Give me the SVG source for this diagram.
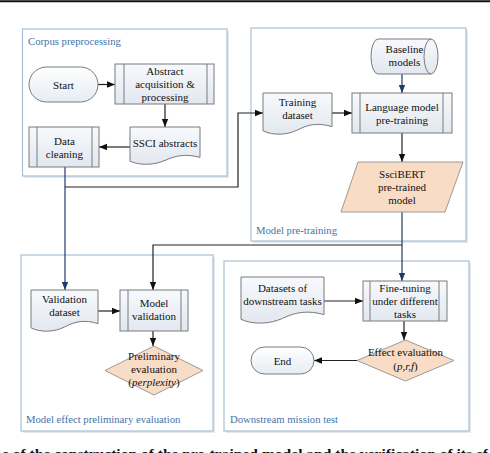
<svg xmlns="http://www.w3.org/2000/svg" width="490" height="453" viewBox="0 0 490 453">
<defs>
<linearGradient id="gSub" x1="0" y1="0" x2="0" y2="1">
<stop offset="0" stop-color="#f7f9fc"/><stop offset="1" stop-color="#e2e8f0"/>
</linearGradient>
<linearGradient id="gTerm" x1="0" y1="0" x2="0" y2="1">
<stop offset="0" stop-color="#ffffff"/><stop offset="1" stop-color="#e6edf5"/>
</linearGradient>
<marker id="ab" viewBox="0 0 8 8" refX="8" refY="4" markerWidth="8" markerHeight="8" markerUnits="userSpaceOnUse" orient="auto">
<path d="M0 0.8 L8 4 L0 7.2 Z" fill="#111"/>
</marker>
<marker id="an" viewBox="0 0 8 8" refX="8" refY="4" markerWidth="8" markerHeight="8" markerUnits="userSpaceOnUse" orient="auto">
<path d="M0 0.8 L8 4 L0 7.2 Z" fill="#1f3a6b"/>
</marker>
</defs>
<style>
.grp{fill:#ffffff;stroke:#a9bed6;stroke-width:1.2}
.shd{fill:#e4e8ee;stroke:none}
.gt{font-family:"Liberation Serif","Times New Roman",serif;font-size:10.7px;fill:#4673a8}
.t{font-family:"Liberation Serif","Times New Roman",serif;font-size:11px;fill:#111;text-anchor:middle}
.sub{fill:url(#gSub);stroke:#7a7a7a;stroke-width:1}
.doc{fill:url(#gSub);stroke:#7a7a7a;stroke-width:1}
.term{fill:url(#gTerm);stroke:#7a7a7a;stroke-width:1}
.pch{fill:#f9dcc5;stroke:#9a9a9a;stroke-width:1}
.in{stroke:#7a7a7a;stroke-width:1;fill:none}
.c{fill:none;stroke:#222;stroke-width:1.2;marker-end:url(#ab)}
.cn{fill:none;stroke:#1f3a6b;stroke-width:1.2;marker-end:url(#an)}
.cap{font-family:"Liberation Serif","Times New Roman",serif;font-size:13px;font-weight:bold;fill:#111}
</style>
<rect x="0" y="0" width="490" height="453" fill="#ffffff"/>
<line x1="0" y1="1.2" x2="490" y2="1.2" stroke="#111" stroke-width="2"/>

<g id="group-corpus">
<rect class="shd" x="24.5" y="31" width="204.5" height="147"/>
<rect class="grp" x="22.5" y="29" width="204.5" height="147"/>
<text class="gt" x="28" y="45">Corpus preprocessing</text>
</g>
<g id="group-pretraining">
<rect class="shd" x="253" y="30" width="215" height="213"/>
<rect class="grp" x="251" y="28" width="215" height="213"/>
<text class="gt" x="256" y="234">Model pre-training</text>
</g>
<g id="group-preliminary">
<rect class="shd" x="23" y="257" width="192" height="176"/>
<rect class="grp" x="21" y="255" width="192" height="176"/>
<text class="gt" x="26" y="423">Model effect preliminary evaluation</text>
</g>
<g id="group-downstream">
<rect class="shd" x="226" y="263" width="245" height="170"/>
<rect class="grp" x="224" y="261" width="245" height="170"/>
<text class="gt" x="230" y="423">Downstream mission test</text>
</g>

<g id="connectors">
<path class="c" d="M98 84.5 H115"/>
<path class="c" d="M165 104 V127"/>
<path class="c" d="M130 147 H99"/>
<path class="cn" d="M65 167 V290"/>
<path class="c" d="M65 187 H238 V113 H263"/>
<path class="cn" d="M402 74 V93"/>
<path class="c" d="M332 113 H352"/>
<path class="c" d="M402 133 V162"/>
<path class="cn" d="M402 212 V281"/>
<path class="c" d="M402 245 H153 V290"/>
<path class="c" d="M98 311 H120"/>
<path class="c" d="M153 331 V346"/>
<path class="c" d="M324 301 H363"/>
<path class="c" d="M404 321 V340"/>
<path class="c" d="M357 360.5 H314"/>
</g>

<g id="start">
<rect class="term" x="29" y="67" width="69" height="35" rx="17.5"/>
<text class="t" x="63.5" y="88.5">Start</text>
</g>
<g id="abstract-acquisition">
<rect class="sub" x="115" y="64" width="99" height="40"/>
<line class="in" x1="124" y1="64" x2="124" y2="104"/><line class="in" x1="207" y1="64" x2="207" y2="104"/>
<text class="t" x="165" y="75">Abstract</text>
<text class="t" x="165" y="88">acquisition &amp;</text>
<text class="t" x="165" y="101">processing</text>
</g>
<g id="ssci-abstracts">
<path class="doc" d="M130 127 H200 V157.4 C186 153.6 175.5 155.5 165 160.4 C154.5 165 140.5 165.8 130 161.2 Z"/>
<text class="t" x="165" y="147">SSCI abstracts</text>
</g>
<g id="data-cleaning">
<rect class="sub" x="29" y="127" width="70" height="40"/>
<line class="in" x1="37" y1="127" x2="37" y2="167"/><line class="in" x1="92" y1="127" x2="92" y2="167"/>
<text class="t" x="64.5" y="145">Data</text>
<text class="t" x="64.5" y="158">cleaning</text>
</g>
<g id="baseline-models">
<path class="doc" d="M378 39 H431 A7 17.5 0 0 1 431 74 H378 A7 17.5 0 0 1 378 39 Z"/>
<path class="in" d="M431 39 A7 17.5 0 0 0 431 74"/>
<text class="t" x="404.5" y="53">Baseline</text>
<text class="t" x="404.5" y="66">models</text>
</g>
<g id="training-dataset">
<path class="doc" d="M263 93 H332 V126.6 C318.2 122.4 307.9 124.5 297.5 130 C287.2 135 273.4 135.8 263 130.8 Z"/>
<text class="t" x="297.5" y="106">Training</text>
<text class="t" x="297.5" y="119">dataset</text>
</g>
<g id="language-model-pretraining">
<rect class="sub" x="352" y="93" width="100" height="40"/>
<line class="in" x1="360" y1="93" x2="360" y2="133"/><line class="in" x1="443" y1="93" x2="443" y2="133"/>
<text class="t" x="402" y="111">Language model</text>
<text class="t" x="402" y="124">pre-training</text>
</g>
<g id="sscibert">
<path class="pch" d="M358 162 H463 L445 212 H341 Z"/>
<text class="t" x="402" y="178">SsciBERT</text>
<text class="t" x="402" y="191">pre-trained</text>
<text class="t" x="402" y="204">model</text>
</g>
<g id="validation-dataset">
<path class="doc" d="M31 290 H98 V323.6 C84.6 319.4 74.6 321.5 64.5 327 C54.5 332 41 332.8 31 327.8 Z"/>
<text class="t" x="64.5" y="303">Validation</text>
<text class="t" x="64.5" y="316">dataset</text>
</g>
<g id="model-validation">
<rect class="sub" x="120" y="290" width="68" height="41"/>
<line class="in" x1="128" y1="290" x2="128" y2="331"/><line class="in" x1="181" y1="290" x2="181" y2="331"/>
<text class="t" x="154" y="307">Model</text>
<text class="t" x="154" y="320">validation</text>
</g>
<g id="preliminary-evaluation">
<path class="pch" d="M154 346 L203 370.5 L154 395 L105 370.5 Z"/>
<text class="t" x="154" y="360">Preliminary</text>
<text class="t" x="154" y="373">evaluation</text>
<text class="t" x="154" y="386">(<tspan font-style="italic">perplexity</tspan>)</text>
</g>
<g id="datasets-downstream">
<path class="doc" d="M241 277 H324 V314.6 C307.4 309.9 295 312.3 282.5 318.4 C270 324 253.5 325 241 319.3 Z"/>
<text class="t" x="282.5" y="292">Datasets of</text>
<text class="t" x="282.5" y="305">downstream tasks</text>
</g>
<g id="fine-tuning">
<rect class="sub" x="363" y="281" width="84" height="40"/>
<line class="in" x1="370" y1="281" x2="370" y2="321"/><line class="in" x1="439" y1="281" x2="439" y2="321"/>
<text class="t" x="405" y="292">Fine-tuning</text>
<text class="t" x="405" y="305">under different</text>
<text class="t" x="405" y="318">tasks</text>
</g>
<g id="effect-evaluation">
<path class="pch" d="M405.5 340 L454 360.5 L405.5 381 L357 360.5 Z"/>
<text class="t" x="405.5" y="356">Effect evaluation</text>
<text class="t" x="405.5" y="370">(<tspan font-style="italic">p,r,f</tspan>)</text>
</g>
<g id="end">
<rect class="term" x="251" y="347" width="63" height="27" rx="13.5"/>
<text class="t" x="282.5" y="364.5">End</text>
</g>
<text class="cap" x="2" y="458" textLength="486" lengthAdjust="spacingAndGlyphs">e of the construction of the pre-trained model and the verification of its ef</text>
</svg>
